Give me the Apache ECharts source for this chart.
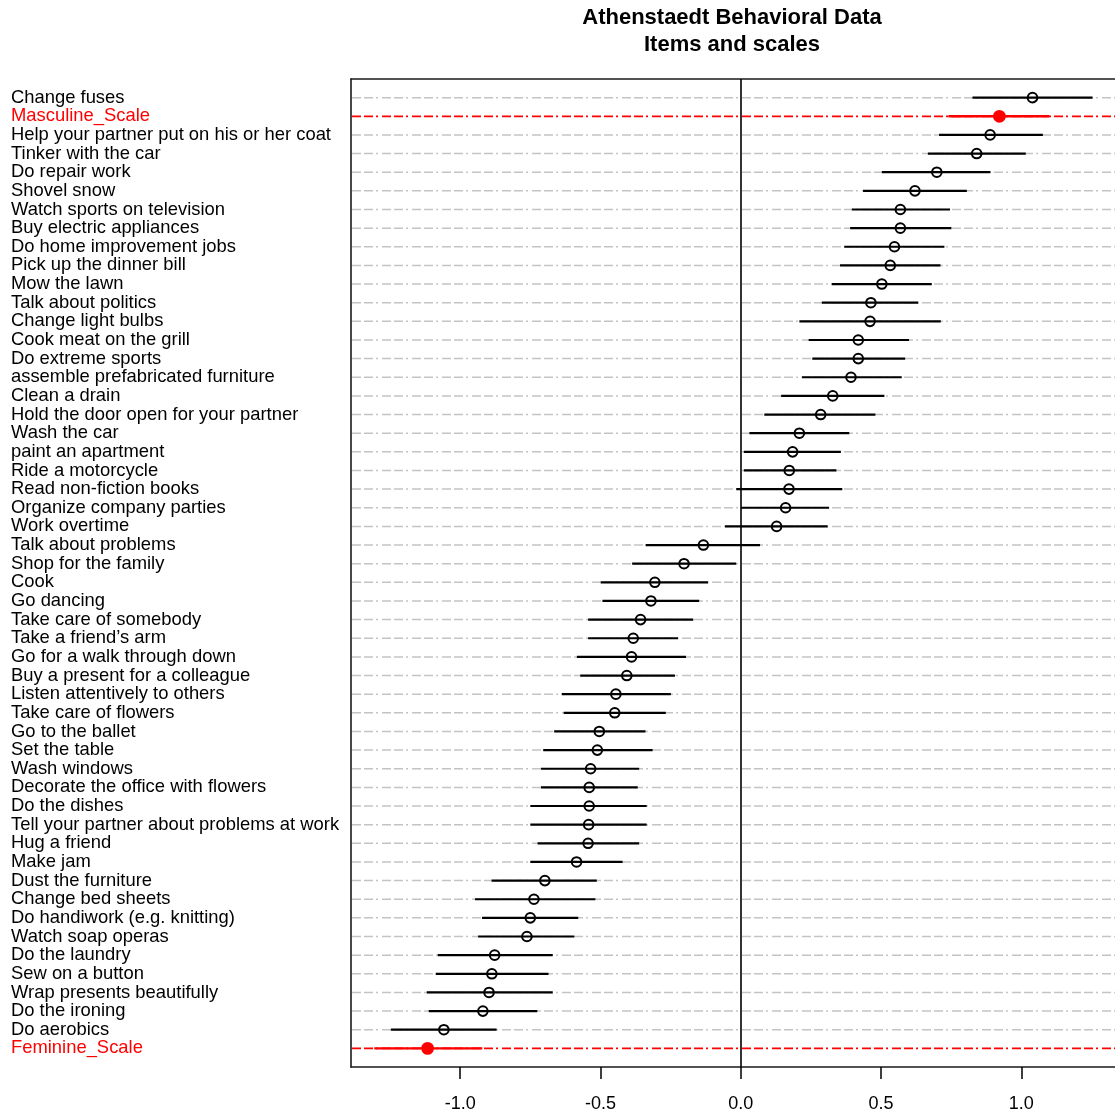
<!DOCTYPE html>
<html>
<head>
<meta charset="utf-8">
<title>Athenstaedt Behavioral Data</title>
<script src="https://cdn.jsdelivr.net/npm/echarts@6/dist/echarts.min.js"></script>
<style>
  html, body { margin: 0; padding: 0; background: #fff; }
  #chart { width: 1115px; height: 1114px; }
</style>
</head>
<body>
<div id="chart"></div>
<script>
// Items, listed from top to bottom of the dot chart
const items = [
  'Change fuses', 'Masculine_Scale', 'Help your partner put on his or her coat',
  'Tinker with the car', 'Do repair work', 'Shovel snow', 'Watch sports on television',
  'Buy electric appliances', 'Do home improvement jobs', 'Pick up the dinner bill',
  'Mow the lawn', 'Talk about politics', 'Change light bulbs', 'Cook meat on the grill',
  'Do extreme sports', 'assemble prefabricated furniture', 'Clean a drain',
  'Hold the door open for your partner', 'Wash the car', 'paint an apartment',
  'Ride a motorcycle', 'Read non-fiction books', 'Organize company parties',
  'Work overtime', 'Talk about problems', 'Shop for the family', 'Cook', 'Go dancing',
  'Take care of somebody', 'Take a friend\u2019s arm', 'Go for a walk through down',
  'Buy a present for a colleague', 'Listen attentively to others', 'Take care of flowers',
  'Go to the ballet', 'Set the table', 'Wash windows', 'Decorate the office with flowers',
  'Do the dishes', 'Tell your partner about problems at work', 'Hug a friend', 'Make jam',
  'Dust the furniture', 'Change bed sheets', 'Do handiwork (e.g. knitting)',
  'Watch soap operas', 'Do the laundry', 'Sew on a button', 'Wrap presents beautifully',
  'Do the ironing', 'Do aerobics', 'Feminine_Scale'
];

// Point estimates
const estimates = [
  1.040, 0.922, 0.889, 0.841, 0.699, 0.621, 0.569, 0.569, 0.548, 0.533,
  0.503, 0.464, 0.461, 0.419, 0.419, 0.393, 0.328, 0.285, 0.209, 0.185,
  0.173, 0.172, 0.160, 0.128, -0.133, -0.202, -0.306, -0.320, -0.357, -0.383,
  -0.389, -0.406, -0.445, -0.449, -0.504, -0.511, -0.535, -0.540, -0.540, -0.542,
  -0.544, -0.585, -0.698, -0.737, -0.750, -0.762, -0.877, -0.887, -0.897, -0.919,
  -1.058, -1.116
];

// Lower interval bounds
const lower = [
  0.826, 0.740, 0.707, 0.667, 0.503, 0.436, 0.396, 0.390, 0.369, 0.354,
  0.324, 0.289, 0.209, 0.242, 0.255, 0.218, 0.144, 0.084, 0.031, 0.011,
  0.011, -0.016, 0.001, -0.056, -0.339, -0.387, -0.499, -0.493, -0.544, -0.544,
  -0.584, -0.572, -0.638, -0.631, -0.665, -0.704, -0.712, -0.712, -0.750, -0.750,
  -0.724, -0.750, -0.888, -0.947, -0.922, -0.936, -1.080, -1.087, -1.119, -1.112,
  -1.247, -1.306
];

// Upper interval bounds
const upper = [
  1.254, 1.100, 1.077, 1.016, 0.890, 0.806, 0.746, 0.751, 0.726, 0.712,
  0.681, 0.633, 0.713, 0.600, 0.586, 0.574, 0.512, 0.480, 0.387, 0.357,
  0.341, 0.362, 0.315, 0.310, 0.069, -0.016, -0.116, -0.148, -0.169, -0.223,
  -0.195, -0.234, -0.249, -0.267, -0.339, -0.314, -0.362, -0.367, -0.335, -0.335,
  -0.362, -0.421, -0.513, -0.518, -0.579, -0.593, -0.670, -0.685, -0.670, -0.725,
  -0.870, -0.921
];

// Summary scales are highlighted
const scaleNames = ['Masculine_Scale', 'Feminine_Scale'];

// x tick positions and labels
const xTicks = [-1.0, -0.5, 0.0, 0.5, 1.0];
const xTickLabels = ['-1.0', '-0.5', '0.0', '0.5', '1.0'];

const X_MIN = -1.389;
const X_MAX = 1.334;
const N = items.length;
const RED = '#ff0000';
const FONT = 'Liberation Sans, Arial, sans-serif';

// Row k (from top) sits at y = N - k on a 0..N+1 scale
const seriesData = items.map(function (name, k) {
  return [N - k, estimates[k], lower[k], upper[k], scaleNames.indexOf(name) >= 0 ? 1 : 0];
});

function renderRow(params, api) {
  const yv = api.value(0);
  const isScale = api.value(4) === 1;
  const p = api.coord([api.value(1), yv]);
  const lo = api.coord([api.value(2), yv]);
  const hi = api.coord([api.value(3), yv]);
  const left = api.coord([X_MIN, yv]);
  const right = api.coord([X_MAX, yv]);
  const col = isScale ? RED : '#000';
  return {
    type: 'group',
    children: [
      {
        type: 'line',
        shape: { x1: left[0] + 1, y1: p[1], x2: right[0], y2: p[1] },
        style: {
          stroke: isScale ? RED : '#c4c4c4',
          lineWidth: isScale ? 1.8 : 1.5,
          lineDash: [9, 3, 9, 3, 2, 4]
        }
      },
      {
        type: 'line',
        shape: { x1: lo[0], y1: lo[1], x2: hi[0], y2: hi[1] },
        style: { stroke: col, lineWidth: isScale ? 2.4 : 2.2 }
      },
      {
        type: 'circle',
        shape: { cx: p[0], cy: p[1], r: isScale ? 5.4 : 4.8 },
        style: { fill: isScale ? RED : 'none', stroke: col, lineWidth: 2 }
      }
    ]
  };
}

const chart = echarts.init(document.getElementById('chart'), null, { renderer: 'canvas' });

const frameLine = { color: '#1a1a1a', width: 1.6 };

chart.setOption({
  animation: false,
  backgroundColor: '#fff',
  textStyle: { fontFamily: FONT },
  title: {
    text: 'Athenstaedt Behavioral Data\nItems and scales',
    left: 732,
    top: 5,
    padding: 0,
    textAlign: 'center',
    textStyle: {
      fontFamily: FONT,
      fontSize: 22,
      fontWeight: 'bold',
      color: '#000',
      lineHeight: 26.5
    }
  },
  // Right side of the frame runs past the canvas edge
  grid: {
    left: 351,
    top: 79,
    right: 0,
    height: 988,
    show: false,
    containLabel: false
  },
  xAxis: [
    {
      type: 'value',
      position: 'bottom',
      min: X_MIN,
      max: X_MAX,
      axisLine: { show: true, onZero: false, lineStyle: frameLine },
      splitLine: { show: false },
      axisTick: {
        show: true,
        length: 12,
        customValues: xTicks,
        lineStyle: { color: '#000', width: 1.5 }
      },
      axisLabel: {
        customValues: xTicks,
        margin: 28,
        fontSize: 18,
        color: '#000',
        fontFamily: FONT,
        formatter: function (v) {
          const i = xTicks.indexOf(v);
          return i >= 0 ? xTickLabels[i] : '';
        }
      }
    },
    {
      type: 'value',
      position: 'top',
      min: X_MIN,
      max: X_MAX,
      axisLine: { show: true, onZero: false, lineStyle: frameLine },
      axisTick: { show: false },
      axisLabel: { show: false },
      splitLine: { show: false }
    }
  ],
  yAxis: {
    type: 'value',
    min: 0,
    max: N + 1,
    interval: 1,
    axisLine: { show: true, onZero: false, lineStyle: frameLine },
    axisTick: { show: false },
    splitLine: { show: false },
    axisLabel: {
      margin: 0,
      align: 'right',
      formatter: function (v) {
        const k = N - v;
        if (k < 0 || k >= N) return '';
        const name = items[k];
        return (scaleNames.indexOf(name) >= 0 ? '{s|' : '{n|') + name + '}';
      },
      rich: {
        n: { width: 340, align: 'left', fontSize: 18.4, color: '#000', fontFamily: FONT },
        s: { width: 340, align: 'left', fontSize: 18.4, color: RED, fontFamily: FONT }
      }
    }
  },
  series: [
    {
      type: 'custom',
      xAxisIndex: 0,
      renderItem: renderRow,
      clip: false,
      encode: { x: [1, 2, 3], y: 0 },
      data: seriesData,
      markLine: {
        silent: true,
        symbol: 'none',
        label: { show: false },
        lineStyle: { color: '#000', width: 1.6, type: 'solid' },
        data: [{ xAxis: 0 }]
      }
    }
  ]
});
</script>
</body>
</html>
